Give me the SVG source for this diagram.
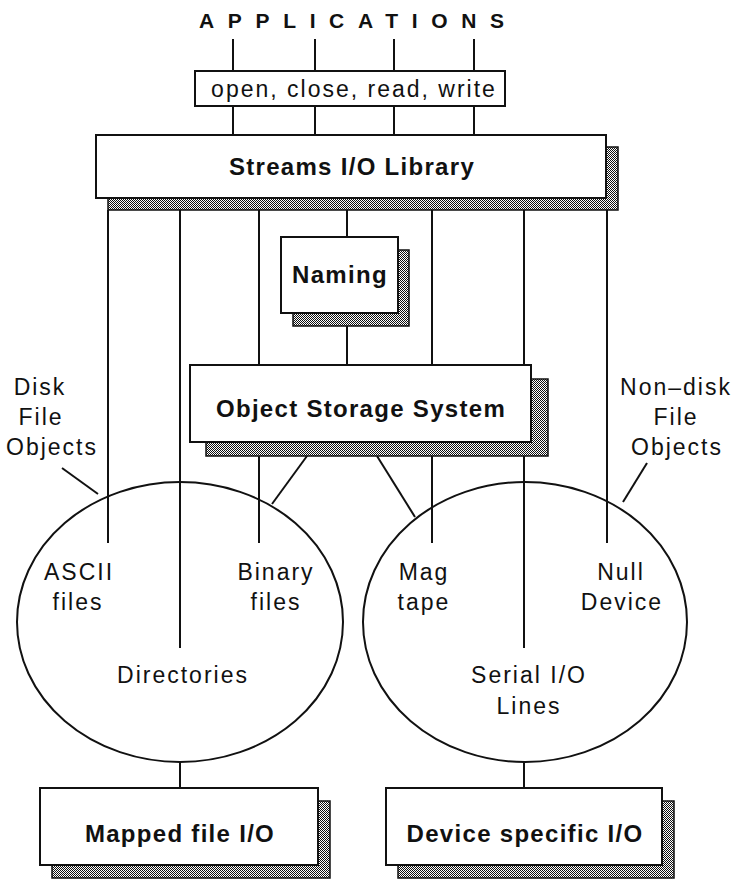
<svg xmlns="http://www.w3.org/2000/svg" width="737" height="880" viewBox="0 0 737 880">
<defs>
<pattern id="hatch" width="2" height="2" patternUnits="userSpaceOnUse">
<rect width="2" height="2" fill="#fff"/>
<rect x="0" y="0" width="1" height="1" fill="#111"/>
<rect x="1" y="1" width="1" height="1" fill="#111"/>
</pattern>
</defs>
<style>
.box{fill:#fff;stroke:#111;stroke-width:2}
.shadow{fill:url(#hatch);stroke:#111;stroke-width:1.5}
.ln{stroke:#111;stroke-width:2;fill:none}
.reg{font-family:"Liberation Sans",Arial,sans-serif;font-size:23px;letter-spacing:2px;fill:#111;text-anchor:middle}
.bold{font-family:"Liberation Sans",Arial,sans-serif;font-size:24px;font-weight:bold;letter-spacing:1.3px;fill:#111;text-anchor:middle}
.ell{fill:none;stroke:#111;stroke-width:2}
</style>
<rect width="737" height="880" fill="#fff"/>

<g id="connectors">
<line class="ln" x1="233" y1="39" x2="233" y2="71"/>
<line class="ln" x1="315" y1="39" x2="315" y2="71"/>
<line class="ln" x1="394" y1="39" x2="394" y2="71"/>
<line class="ln" x1="474" y1="39" x2="474" y2="71"/>
<line class="ln" x1="233" y1="106" x2="233" y2="135"/>
<line class="ln" x1="315" y1="106" x2="315" y2="135"/>
<line class="ln" x1="394" y1="106" x2="394" y2="135"/>
<line class="ln" x1="474" y1="106" x2="474" y2="135"/>
<line class="ln" x1="108" y1="210" x2="108" y2="543"/>
<line class="ln" x1="180" y1="210" x2="180" y2="648"/>
<line class="ln" x1="259" y1="210" x2="259" y2="365"/>
<line class="ln" x1="259" y1="456" x2="259" y2="543"/>
<line class="ln" x1="347" y1="210" x2="347" y2="237"/>
<line class="ln" x1="347" y1="326" x2="347" y2="365"/>
<line class="ln" x1="432" y1="210" x2="432" y2="365"/>
<line class="ln" x1="432" y1="456" x2="432" y2="543"/>
<line class="ln" x1="524" y1="210" x2="524" y2="365"/>
<line class="ln" x1="524" y1="456" x2="524" y2="648"/>
<line class="ln" x1="607" y1="210" x2="607" y2="543"/>
<line class="ln" x1="307" y1="456" x2="272" y2="504"/>
<line class="ln" x1="377" y1="456" x2="415" y2="517"/>
<line class="ln" x1="62" y1="468" x2="98" y2="494"/>
<line class="ln" x1="647" y1="463" x2="623" y2="502"/>
<line class="ln" x1="180" y1="762" x2="180" y2="788"/>
<line class="ln" x1="524" y1="762" x2="524" y2="788"/>
</g>

<g id="applications">
<text x="199" y="28" font-family="Liberation Sans,Arial,sans-serif" font-size="21" font-weight="bold" fill="#111" textLength="305" lengthAdjust="spacing">APPLICATIONS</text>
</g>

<g id="calls">
<rect class="box" x="195" y="71" width="310" height="35"/>
<text class="reg" x="354" y="97" letter-spacing="2.5">open, close, read, write</text>
</g>

<g id="streams">
<rect class="shadow" x="108" y="147" width="510" height="63"/>
<rect class="box" x="96" y="135" width="510" height="63"/>
<text class="bold" x="352" y="175" font-size="22" letter-spacing="0.6">Streams I/O Library</text>
</g>

<g id="naming">
<rect class="shadow" x="293" y="250" width="116" height="76"/>
<rect class="box" x="281" y="237" width="117" height="76"/>
<text class="bold" x="340" y="283">Naming</text>
</g>

<g id="oss">
<rect class="shadow" x="206" y="379" width="342" height="77"/>
<rect class="box" x="190" y="365" width="341" height="77"/>
<text class="bold" x="361" y="417">Object Storage System</text>
</g>

<g id="disk-objects">
<ellipse class="ell" cx="180" cy="622" rx="163" ry="140"/>
<text class="reg" x="40" y="395">Disk</text>
<text class="reg" x="41" y="425">File</text>
<text class="reg" x="52" y="455">Objects</text>
<text class="reg" x="79" y="580">ASCII</text>
<text class="reg" x="78" y="610">files</text>
<text class="reg" x="276" y="580">Binary</text>
<text class="reg" x="276" y="610">files</text>
<text class="reg" x="183" y="683">Directories</text>
</g>

<g id="nondisk-objects">
<ellipse class="ell" cx="525" cy="622" rx="162" ry="140"/>
<text class="reg" x="676" y="395">Non–disk</text>
<text class="reg" x="676" y="425">File</text>
<text class="reg" x="677" y="455">Objects</text>
<text class="reg" x="424" y="580">Mag</text>
<text class="reg" x="424" y="610">tape</text>
<text class="reg" x="621" y="580">Null</text>
<text class="reg" x="622" y="610">Device</text>
<text class="reg" x="529" y="683">Serial I/O</text>
<text class="reg" x="529" y="714">Lines</text>
</g>

<g id="mapped">
<rect class="shadow" x="52" y="801" width="278" height="77"/>
<rect class="box" x="40" y="788" width="278" height="77"/>
<text class="bold" x="180" y="842">Mapped file I/O</text>
</g>

<g id="device">
<rect class="shadow" x="398" y="801" width="276" height="77"/>
<rect class="box" x="386" y="788" width="276" height="77"/>
<text class="bold" x="525" y="842">Device specific I/O</text>
</g>
</svg>
